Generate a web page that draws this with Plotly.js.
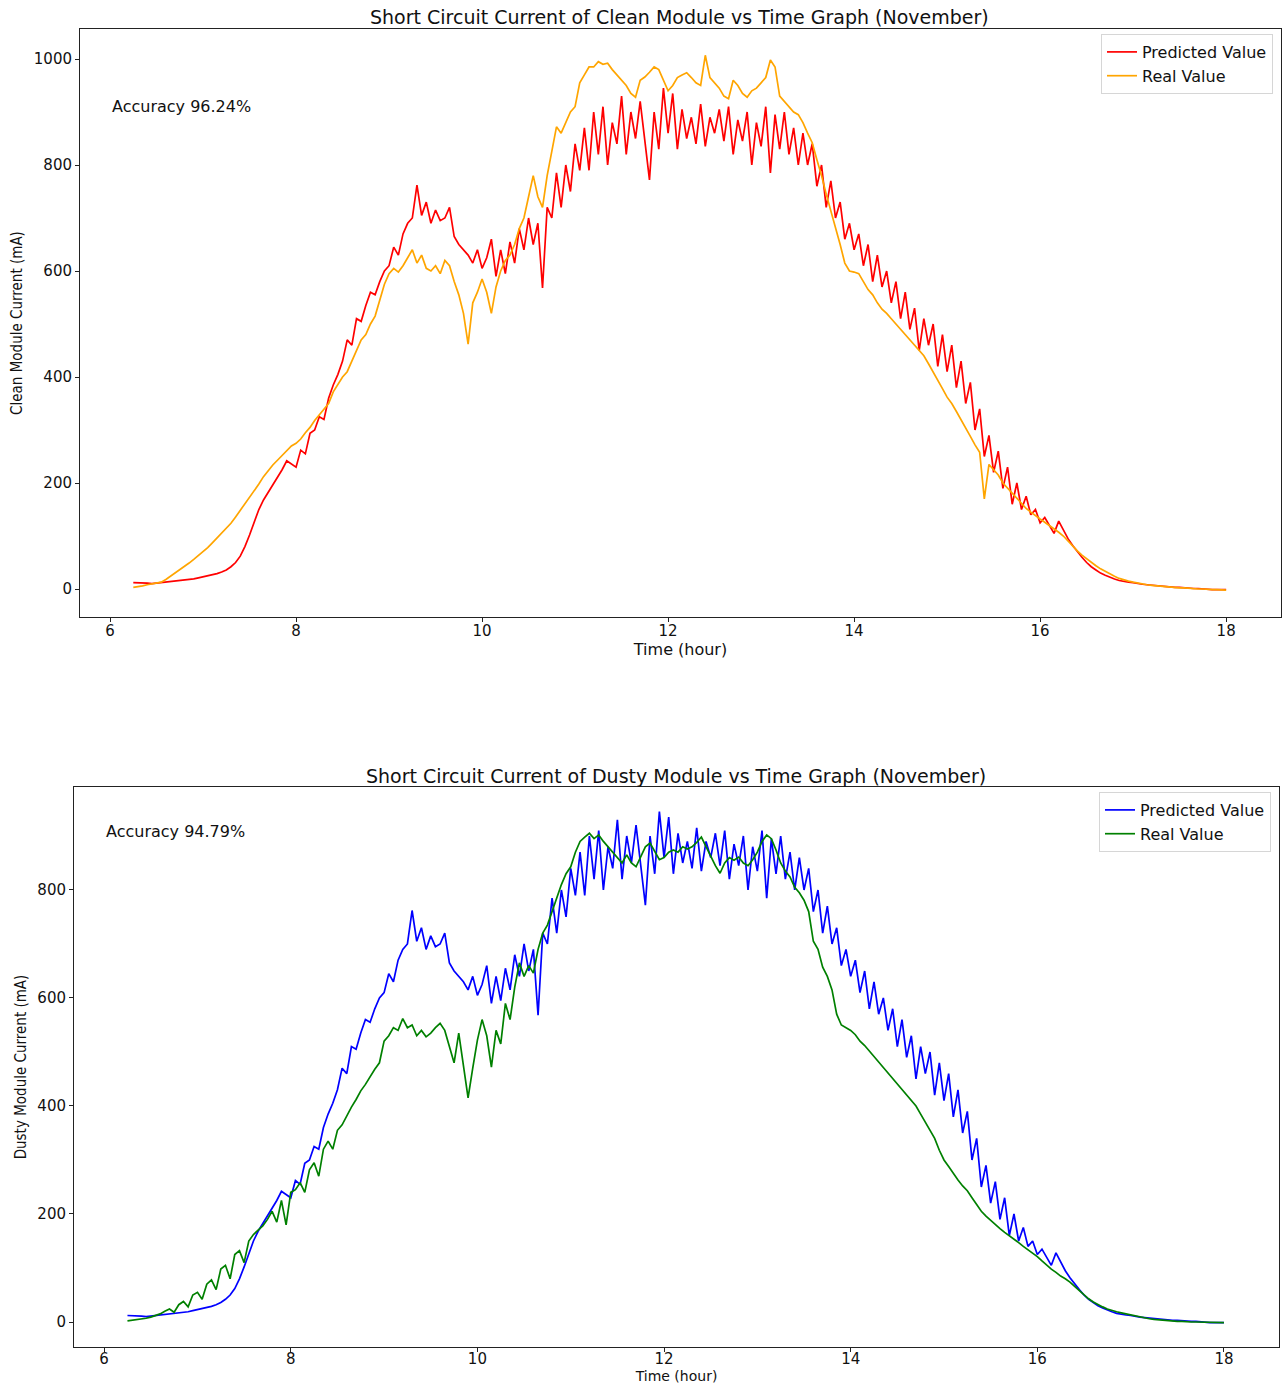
<!DOCTYPE html>
<html>
<head>
<meta charset="utf-8">
<script src="https://cdn.plot.ly/plotly-3.0.1.min.js"></script>
<style>html,body{margin:0;padding:0;background:#fff;}#chart{width:1282px;height:1385px;}</style>
</head>
<body>
<div id="chart"></div>
<script>
// Time of day (hour)
const hours = [
6.25,6.3,6.35,6.4,6.45,6.5,6.55,6.6,6.65,6.7,6.75,6.8,6.85,6.9,6.95,
7,7.05,7.1,7.15,7.2,7.25,7.3,7.35,7.4,7.45,7.5,7.55,7.6,7.65,7.7,7.75,7.8,7.85,7.9,7.95,
8,8.05,8.1,8.15,8.2,8.25,8.3,8.35,8.4,8.45,8.5,8.55,8.6,8.65,8.7,8.75,8.8,8.85,8.9,8.95,
9,9.05,9.1,9.15,9.2,9.25,9.3,9.35,9.4,9.45,9.5,9.55,9.6,9.65,9.7,9.75,9.8,9.85,9.9,9.95,
10,10.05,10.1,10.15,10.2,10.25,10.3,10.35,10.4,10.45,10.5,10.55,10.6,10.65,10.7,10.75,10.8,10.85,10.9,10.95,
11,11.05,11.1,11.15,11.2,11.25,11.3,11.35,11.4,11.45,11.5,11.55,11.6,11.65,11.7,11.75,11.8,11.85,11.9,11.95,
12,12.05,12.1,12.15,12.2,12.25,12.3,12.35,12.4,12.45,12.5,12.55,12.6,12.65,12.7,12.75,12.8,12.85,12.9,12.95,
13,13.05,13.1,13.15,13.2,13.25,13.3,13.35,13.4,13.45,13.5,13.55,13.6,13.65,13.7,13.75,13.8,13.85,13.9,13.95,
14,14.05,14.1,14.15,14.2,14.25,14.3,14.35,14.4,14.45,14.5,14.55,14.6,14.65,14.7,14.75,14.8,14.85,14.9,14.95,
15,15.05,15.1,15.15,15.2,15.25,15.3,15.35,15.4,15.45,15.5,15.55,15.6,15.65,15.7,15.75,15.8,15.85,15.9,15.95,
16,16.05,16.1,16.15,16.2,16.25,16.3,16.35,16.4,16.45,16.5,16.55,16.6,16.65,16.7,16.75,16.8,16.85,16.9,16.95,
17,17.05,17.1,17.15,17.2,17.25,17.3,17.35,17.4,17.45,17.5,17.55,17.6,17.65,17.7,17.75,17.8,17.85,17.9,17.95,
18
];

// Predicted short circuit current (mA) – same prediction shown in both panels
const predicted = [
12,12,11,11,10,11,11,12,13,14,15,16,17,19,21,
23,24,26,29,32,36,42,50,62,80,102,128,150,168,182,195,210,225,242,236,
230,262,255,294,300,325,320,360,385,405,430,470,460,510,505,535,560,555,580,600,
610,645,630,670,690,700,762,705,730,690,715,695,700,720,665,650,640,630,615,640,
605,625,660,590,640,595,655,615,680,640,700,650,690,568,720,700,785,720,800,750,
840,790,870,790,900,820,910,800,880,840,930,820,900,850,920,845,772,900,830,945,
860,935,830,905,850,890,840,915,835,890,860,905,845,910,820,885,845,900,800,880,
835,910,785,895,830,900,820,870,800,860,800,840,760,800,720,770,700,730,660,690,
640,670,610,650,580,630,570,600,540,580,510,560,490,530,450,510,460,500,420,480,
410,460,380,430,350,390,300,340,250,290,220,260,190,230,160,200,150,175,140,150,
125,135,120,105,128,110,95,82,70,60,50,42,36,30,26,22,19,16,14,13,
12,10,9,8,7,6,5,5,4,3,3,2,2,1,1,0,0,-1,-1,-1,
-1
];

// Real value, clean module (mA)
const realClean = [
3,4,6,8,10,11,13,18,24,30,36,42,49,56,63,
70,78,87,96,105,115,124,136,148,160,172,185,198,212,224,234,243,252,262,270,
275,283,295,305,318,328,340,350,372,385,400,410,430,450,470,480,500,515,545,575,
595,605,598,610,625,640,615,630,605,600,610,595,620,610,580,555,520,462,540,560,
585,560,520,570,600,620,630,650,680,700,740,780,740,720,780,830,872,860,880,900,
910,955,970,985,985,995,990,992,980,970,960,950,935,928,960,966,975,985,980,960,
940,950,965,970,974,965,955,950,1007,965,955,945,930,925,960,950,935,928,940,945,
955,965,998,985,930,920,910,900,895,880,860,842,810,780,745,715,680,650,615,600,
598,595,580,565,555,540,528,520,510,500,490,480,472,462,452,440,425,410,395,378,
362,350,335,320,305,288,272,258,170,235,225,215,200,190,180,170,160,152,145,138,
132,126,120,114,107,100,90,80,72,64,57,50,44,38,33,28,24,20,17,15,
13,11,10,8,7,6,5,4,4,3,2,2,1,1,0,0,-1,-1,-1,-1,
-2
];

// Real value, dusty module (mA)
const realDusty = [
2,3,4,5,7,9,12,15,20,24,18,32,38,28,50,
55,42,70,78,60,98,105,80,125,132,110,150,162,170,178,190,205,185,225,180,
240,245,258,240,282,295,270,320,335,320,355,365,382,398,412,428,440,455,468,480,
520,530,545,540,562,545,550,530,540,528,535,545,553,540,510,480,535,470,415,470,
522,560,530,472,540,515,590,560,620,665,640,660,646,690,720,735,760,787,810,830,
843,870,890,898,905,895,902,890,880,870,860,850,865,850,843,860,880,887,870,856,
860,870,874,870,880,876,880,888,898,880,862,845,831,850,860,855,861,850,845,856,
870,890,902,895,874,850,835,824,805,795,781,760,705,690,657,640,615,570,550,545,
540,532,520,512,502,492,482,470,460,452,442,430,420,410,400,385,370,356,340,318,
300,288,275,263,252,243,230,218,205,196,188,180,173,166,160,153,147,140,134,128,
121,113,105,98,92,85,80,74,66,58,50,43,37,32,28,24,21,19,17,15,
13,11,9,8,6,5,4,3,2,2,1,1,0,0,0,0,-1,-1,-1,-1,
-1
];

const xTicks = [6, 8, 10, 12, 14, 16, 18];
const yTicksClean = [0, 200, 400, 600, 800, 1000];
const yTicksDusty = [0, 200, 400, 600, 800];

const W = 1282, H = 1385;
const FONT = 'DejaVu Sans, Verdana, sans-serif';
const NARROW = 'Liberation Sans Narrow, DejaVu Sans Condensed, Arial Narrow, sans-serif';
const axisColor = '#222';

const traces = [
  {x: hours, y: predicted, xaxis: 'x', yaxis: 'y', type: 'scatter', mode: 'lines',
   name: 'Predicted Value', line: {color: '#ff0000', width: 1.7}, legend: 'legend'},
  {x: hours, y: realClean, xaxis: 'x', yaxis: 'y', type: 'scatter', mode: 'lines',
   name: 'Real Value', line: {color: '#ffa500', width: 1.7}, legend: 'legend'},
  {x: hours, y: predicted, xaxis: 'x2', yaxis: 'y2', type: 'scatter', mode: 'lines',
   name: 'Predicted Value', line: {color: '#0000ff', width: 1.7}, legend: 'legend2'},
  {x: hours, y: realDusty, xaxis: 'x2', yaxis: 'y2', type: 'scatter', mode: 'lines',
   name: 'Real Value', line: {color: '#008000', width: 1.7}, legend: 'legend2'}
];

function xAxis(domain, anchor, titleSize, titleStandoff, labelShift) {
  return {
    domain: domain, anchor: anchor, range: [5.677, 18.59],
    tickvals: xTicks, ticktext: xTicks.map(String),
    ticks: 'outside', ticklen: 4, tickwidth: 1, tickcolor: axisColor,
    ticklabelstandoff: labelShift,
    showline: true, linecolor: axisColor, linewidth: 1, mirror: true,
    showgrid: false, zeroline: false,
    tickfont: {family: FONT, size: 15, color: '#111'},
    title: {text: 'Time (hour)', font: {family: FONT, size: titleSize, color: '#111'}, standoff: titleStandoff}
  };
}
function yAxis(domain, anchor, range, ticks, label) {
  return {
    domain: domain, anchor: anchor, range: range,
    tickvals: ticks, ticktext: ticks.map(String),
    ticks: 'outside', ticklen: 4, tickwidth: 1, tickcolor: axisColor,
    showline: true, linecolor: axisColor, linewidth: 1, mirror: true,
    showgrid: false, zeroline: false,
    tickfont: {family: FONT, size: 15, color: '#111'},
    title: {text: label, font: {family: NARROW, size: 15, color: '#111'}, standoff: 7}
  };
}

const legendBase = {
  bgcolor: '#fff', bordercolor: '#d6d6d6', borderwidth: 1,
  font: {family: FONT, size: 16, color: '#111'}, tracegroupgap: 0, itemwidth: 30
};

const layout = {
  width: W, height: H,
  margin: {l: 0, r: 0, t: 0, b: 0},
  paper_bgcolor: '#fff', plot_bgcolor: '#fff',
  showlegend: true,
  xaxis: xAxis([80 / W, 1281 / W], 'y', 16, 0, -4),
  yaxis: yAxis([1 - 617 / H, 1 - 29 / H], 'x', [-52.8, 1056.6], yTicksClean, 'Clean Module Current (mA)'),
  xaxis2: xAxis([74 / W, 1279 / W], 'y2', 14, 3, -6),
  yaxis2: yAxis([1 - 1347 / H, 1 - 787 / H], 'x2', [-46.3, 990.7], yTicksDusty, 'Dusty Module Current (mA)'),
  legend: Object.assign({x: 1273 / W, xanchor: 'right', y: 1 - 34 / H, yanchor: 'top'}, legendBase),
  legend2: Object.assign({x: 1271 / W, xanchor: 'right', y: 1 - 792 / H, yanchor: 'top'}, legendBase),
  annotations: [
    {text: 'Short Circuit Current of Clean Module vs Time Graph (November)', xref: 'paper', yref: 'paper',
     x: 679.5 / W, y: 1 - 17 / H, xanchor: 'center', yanchor: 'middle', showarrow: false,
     font: {family: FONT, size: 19, color: '#111'}},
    {text: 'Short Circuit Current of Dusty Module vs Time Graph (November)', xref: 'paper', yref: 'paper',
     x: 676 / W, y: 1 - 776 / H, xanchor: 'center', yanchor: 'middle', showarrow: false,
     font: {family: FONT, size: 19, color: '#111'}},
    {text: 'Accuracy 96.24%', xref: 'paper', yref: 'paper',
     x: 110 / W, y: 1 - 107 / H, xanchor: 'left', yanchor: 'middle', showarrow: false,
     font: {family: FONT, size: 16, color: '#111'}},
    {text: 'Accuracy 94.79%', xref: 'paper', yref: 'paper',
     x: 104 / W, y: 1 - 831 / H, xanchor: 'left', yanchor: 'middle', showarrow: false,
     font: {family: FONT, size: 16, color: '#111'}}
  ]
};

Plotly.newPlot('chart', traces, layout, {staticPlot: true, displayModeBar: false});
</script>
</body>
</html>
